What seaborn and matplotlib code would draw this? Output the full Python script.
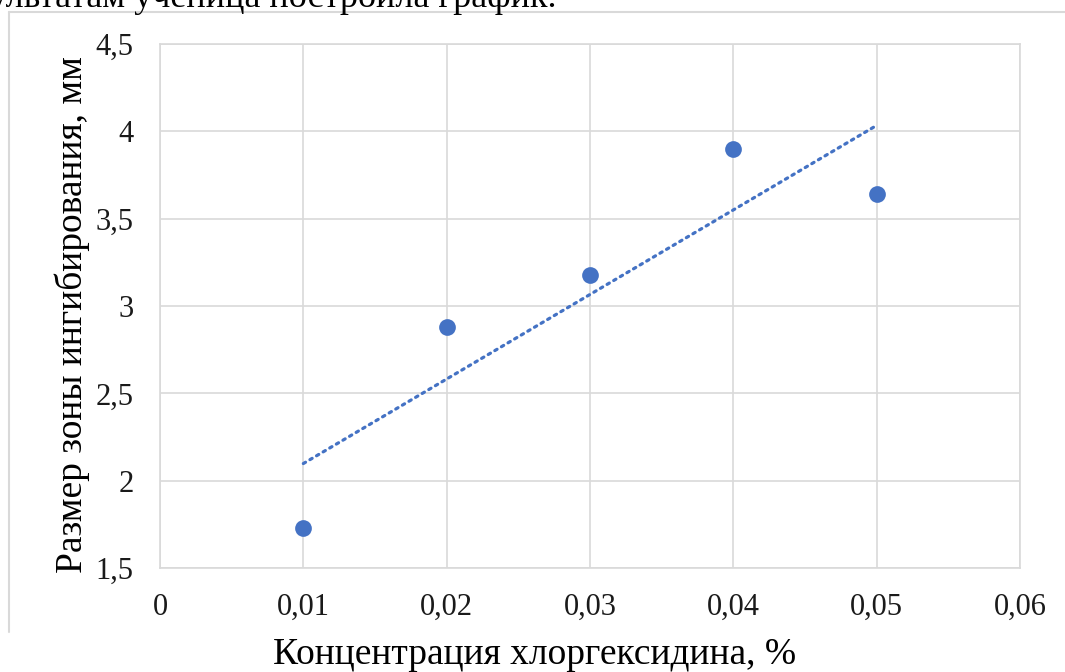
import numpy as np
import pandas as pd
import matplotlib
matplotlib.use("Agg")
import matplotlib.pyplot as plt
from matplotlib.lines import Line2D
import seaborn as sns

# data
concentration = [0.01, 0.02, 0.03, 0.04, 0.05]
zone_size = [1.73, 2.88, 3.18, 3.90, 3.64]
x_ticks = [0, 0.01, 0.02, 0.03, 0.04, 0.05, 0.06]
x_tick_labels = ["0", "0,01", "0,02", "0,03", "0,04", "0,05", "0,06"]
y_ticks = [1.5, 2, 2.5, 3, 3.5, 4, 4.5]
y_tick_labels = ["1,5", "2", "2,5", "3", "3,5", "4", "4,5"]

df = pd.DataFrame({"conc": concentration, "zone": zone_size})

sns.set_theme(style="white")
plt.rcParams["font.family"] = ["Liberation Serif", "DejaVu Serif"]

blue = "#4472C4"
grid = "#d9d9d9"

W, H = 1065, 672
fig = plt.figure(figsize=(W / 100, H / 100), dpi=100)
fig.patch.set_facecolor("white")

# plot area in pixel coords
left, right, top, bottom = 160, 1020, 44, 568
ax = fig.add_axes([left / W, 1 - bottom / H, (right - left) / W, (bottom - top) / H])

# linear trend line (dotted, Excel style)
sns.regplot(data=df, x="conc", y="zone", scatter=False, ci=None, truncate=True,
            line_kws=dict(color=blue, lw=2.3, linestyle=(0, (0.8, 1.6)),
                          dash_capstyle="round"),
            ax=ax)
sns.scatterplot(data=df, x="conc", y="zone", color=blue, s=145,
                edgecolor=blue, linewidth=0, zorder=5, ax=ax)

ax.set_xlim(0, 0.06)
ax.set_ylim(1.5, 4.5)
ax.set_xticks(x_ticks)
ax.set_xticklabels(x_tick_labels)
ax.set_yticks(y_ticks)
ax.set_yticklabels(y_tick_labels)
ax.tick_params(axis="both", length=0, labelsize=22, colors="#1a1a1a")
ax.tick_params(axis="x", pad=18)
ax.tick_params(axis="y", pad=19)
ax.grid(True, color=grid, lw=1.2)
for s in ax.spines.values():
    s.set_color(grid)
    s.set_linewidth(1.2)
ax.set_xlabel("")
ax.set_ylabel("")

fig.text(535 / W, 1 - 655 / H, "Концентрация хлоргексидина, %",
         ha="center", va="center", fontsize=27, color="black")
fig.text(72 / W, 1 - 315 / H, "Размер зоны ингибирования, мм",
         ha="center", va="center", rotation=90, fontsize=27, color="black")

# cut-off document text above the chart
fig.text(557 / W, 1 - 7 / H, "По результатам ученица построила график.",
         ha="right", va="baseline", fontsize=26, color="black")

# outer chart frame
fig.add_artist(Line2D([9 / W, 9 / W], [1 - 12 / H, 1 - 632 / H], color=grid, lw=1.5))
fig.add_artist(Line2D([9 / W, 1.0], [1 - 12 / H, 1 - 12 / H], color=grid, lw=1.5))

fig.savefig("out.png", dpi=100, facecolor="white")
